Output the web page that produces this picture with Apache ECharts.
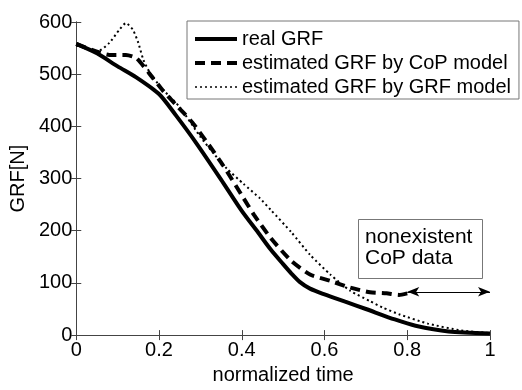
<!DOCTYPE html>
<html>
<head>
<meta charset="utf-8">
<script src="https://cdn.jsdelivr.net/npm/echarts@6/dist/echarts.min.js"></script>
<style>
  html, body { margin: 0; padding: 0; background: #fff; }
  #main { width: 522px; height: 390px; }
</style>
</head>
<body>
<div id="main"></div>
<script>
// values: normalized time vs GRF [N]
let timeReal = [0, 0.05, 0.1, 0.145, 0.2, 0.24, 0.29, 0.35, 0.4, 0.44, 0.47, 0.5, 0.52, 0.54, 0.565, 0.6, 0.65, 0.7, 0.77, 0.82, 0.9, 1.0];
let grfReal  = [558, 540, 515, 494, 462, 422, 368, 298, 238, 196, 164, 136, 118, 102, 89, 78, 64, 50, 30, 18, 7, 3];

let timeCop = [0, 0.05, 0.08, 0.12, 0.145, 0.175, 0.21, 0.24, 0.28, 0.32, 0.355, 0.4, 0.43, 0.47, 0.52, 0.565, 0.614, 0.662, 0.71, 0.75, 0.78, 0.8];
let grfCop  = [558, 543, 537, 537, 531, 503, 468, 442, 408, 365, 325, 268, 230, 186, 142, 116, 104, 91, 82, 80, 77, 80];

let timeGrfModel = [0, 0.03, 0.05, 0.08, 0.104, 0.12, 0.137, 0.15, 0.162, 0.18, 0.21, 0.25, 0.3, 0.33, 0.364, 0.404, 0.444, 0.47, 0.52, 0.565, 0.614, 0.662, 0.71, 0.74, 0.78, 0.85, 0.93, 1.0];
let grfGrfModel  = [555, 548, 543, 560, 585, 598, 585, 560, 528, 500, 470, 437, 380, 350, 319, 290, 262, 240, 197, 154, 116, 85, 65, 53, 40, 22, 9, 4];

let seriesNames = ['real GRF', 'estimated GRF by CoP model', 'estimated GRF by GRF model'];
let boxText = ['nonexistent', 'CoP data'];
// double arrow for the missing CoP range
let arrowFrom = [0.8, 83];
let arrowTo = [1, 83];

function pairs(xs, ys) {
    return xs.map((x, i) => [x, ys[i]]);
}

let fontName = "'Liberation Sans', Arial, sans-serif";

let myChart = echarts.init(document.getElementById('main'));

let sideAxis = {
    min: 0,
    axisLine: {show: true, lineStyle: {color: '#444', width: 1}},
    axisTick: {show: true, inside: true, length: 5, lineStyle: {color: '#444'}},
    axisLabel: {show: false},
    splitLine: {show: false}
};

let option = {
    backgroundColor: '#fff',
    animation: false,
    textStyle: {fontFamily: fontName},
    title: {
        text: boxText.join('\n'),
        left: 358,
        top: 219,
        padding: [8, 10, 10, 7],
        borderWidth: 1,
        borderColor: '#777',
        backgroundColor: '#fff',
        textStyle: {fontFamily: fontName, fontSize: 21, fontWeight: 'normal', color: '#000', lineHeight: 21}
    },
    legend: {
        data: [
            {name: seriesNames[0], lineStyle: {width: 4}},
            {name: seriesNames[1], lineStyle: {width: 4}},
            {name: seriesNames[2], lineStyle: {width: 1.5}}
        ],
        orient: 'vertical',
        left: 187,
        top: 21,
        padding: [8, 8, 2, 6],
        itemGap: 4,
        itemWidth: 42,
        itemHeight: 20,
        borderWidth: 1,
        borderColor: '#777',
        backgroundColor: '#fff',
        itemStyle: {opacity: 0},
        textStyle: {fontFamily: fontName, fontSize: 20, color: '#000'}
    },
    grid: {left: 76, top: 22, width: 414, height: 316},
    xAxis: [
        {
            type: 'value',
            min: 0,
            max: 1,
            interval: 0.2,
            name: 'normalized time',
            nameLocation: 'middle',
            nameGap: 28,
            nameTextStyle: {fontSize: 20, color: '#000', fontFamily: fontName},
            axisLine: {show: true, lineStyle: {color: '#444', width: 1}},
            axisTick: {inside: true, length: 5, lineStyle: {color: '#444'}},
            axisLabel: {fontSize: 20, color: '#000', margin: 5, fontFamily: fontName},
            splitLine: {show: false}
        },
        Object.assign({type: 'value', position: 'top', max: 1, interval: 0.2}, sideAxis)
    ],
    yAxis: [
        {
            type: 'value',
            min: 0,
            max: 600,
            interval: 100,
            name: 'GRF[N]',
            nameLocation: 'middle',
            nameGap: 46,
            nameTextStyle: {fontSize: 20, color: '#000', fontFamily: fontName},
            axisLine: {show: true, lineStyle: {color: '#444', width: 1}},
            axisTick: {show: true, inside: true, length: 5, lineStyle: {color: '#444'}},
            axisLabel: {fontSize: 20, color: '#000', margin: 4, fontFamily: fontName},
            splitLine: {show: false}
        },
        Object.assign({type: 'value', position: 'right', max: 600, interval: 100}, sideAxis)
    ],
    series: [
        {
            name: seriesNames[0],
            type: 'line',
            symbol: 'none',
            smooth: 0.25,
            data: pairs(timeReal, grfReal),
            lineStyle: {color: '#000', width: 4, type: 'solid'},
            itemStyle: {color: '#000'},
            z: 3
        },
        {
            name: seriesNames[1],
            type: 'line',
            symbol: 'none',
            smooth: 0.2,
            data: pairs(timeCop, grfCop),
            lineStyle: {color: '#000', width: 4, type: [10, 6]},
            itemStyle: {color: '#000'},
            z: 3,
            markLine: {
                silent: true,
                symbol: ['arrow', 'arrow'],
                symbolSize: [7, 12],
                label: {show: false},
                lineStyle: {color: '#000', width: 1, type: 'solid'},
                data: [[{coord: arrowFrom}, {coord: arrowTo}]]
            }
        },
        {
            name: seriesNames[2],
            type: 'line',
            symbol: 'none',
            smooth: 0.2,
            data: pairs(timeGrfModel, grfGrfModel),
            lineStyle: {color: '#000', width: 2, type: [2, 3]},
            itemStyle: {color: '#000'},
            z: 2
        }
    ]
};

myChart.setOption(option);
</script>
</body>
</html>
